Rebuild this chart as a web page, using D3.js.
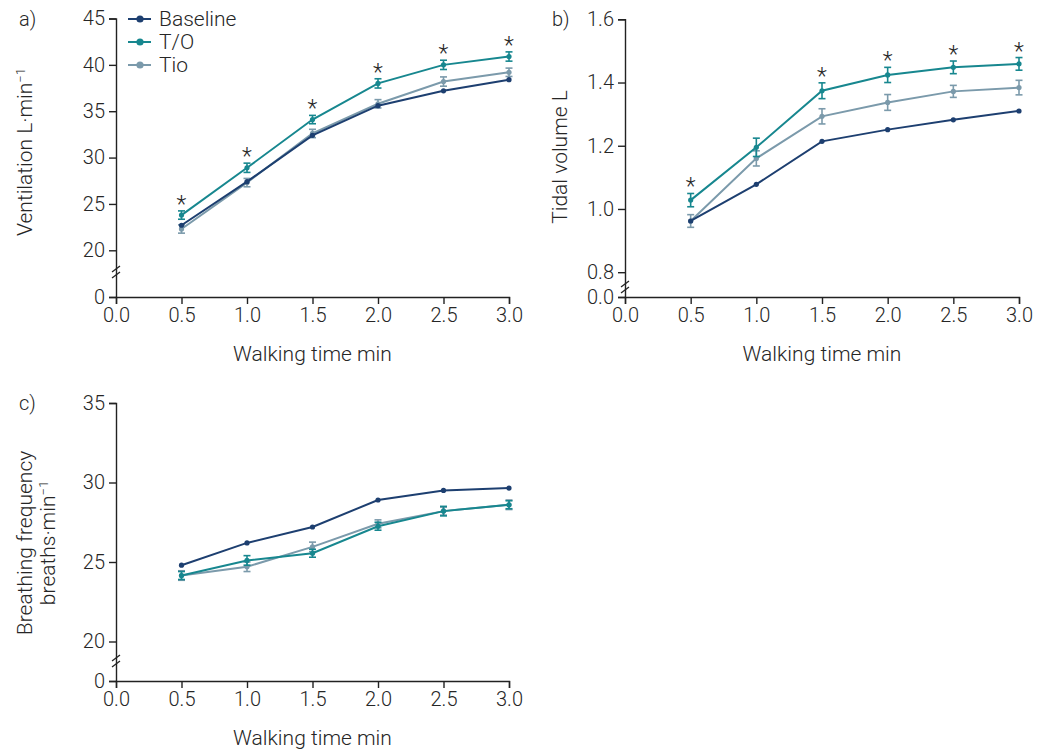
<!DOCTYPE html>
<html>
<head>
<meta charset="utf-8">
<script src="https://cdn.jsdelivr.net/npm/d3@7"></script>
<style>
	body { margin: 0; background: #fff; }
	svg text { font-family: Roboto, "Liberation Sans", sans-serif; font-weight: 300; fill: #262626; }
</style>
</head>
<body>
<svg id="chart" width="1047" height="750"></svg>
<script>
// walking time points (min)
var times = [0.5, 1.0, 1.5, 2.0, 2.5, 3.0];
var seriesNames = ["Baseline", "T/O", "Tio"];
var xTicks = [0, 0.5, 1.0, 1.5, 2.0, 2.5, 3.0];

// a) ventilation L/min
var ventBaseline = [22.7, 27.4, 32.4, 35.6, 37.2, 38.4];
var ventTO = [23.8, 28.9, 34.1, 38.0, 40.0, 40.9];
var ventTio = [22.3, 27.3, 32.6, 35.8, 38.2, 39.2];
var ventTOErr = [0.45, 0.5, 0.45, 0.5, 0.5, 0.5];
var ventTioErr = [0.45, 0.45, 0.45, 0.45, 0.5, 0.45];
var ventStars = [1, 1, 1, 1, 1, 1];
var ventTicks = [0, 20, 25, 30, 35, 40, 45];

// b) tidal volume L
var tidalBaseline = [0.962, 1.078, 1.214, 1.251, 1.282, 1.310];
var tidalTO = [1.028, 1.195, 1.374, 1.424, 1.448, 1.459];
var tidalTio = [0.962, 1.160, 1.293, 1.337, 1.372, 1.384];
var tidalTOErr = [0.021, 0.029, 0.025, 0.024, 0.02, 0.02];
var tidalTioErr = [0.02, 0.024, 0.024, 0.025, 0.019, 0.023];
var tidalStars = [1, 0, 1, 1, 1, 1];
var tidalTicks = [0, 0.8, 1.0, 1.2, 1.4, 1.6];

// c) breathing frequency breaths/min
var freqBaseline = [24.8, 26.2, 27.2, 28.9, 29.5, 29.65];
var freqTO = [24.15, 25.1, 25.55, 27.25, 28.2, 28.6];
var freqTio = [24.15, 24.7, 25.95, 27.4, 28.2, 28.6];
var freqTOErr = [0.25, 0.3, 0.25, 0.25, 0.3, 0.25];
var freqTioErr = [0.3, 0.3, 0.3, 0.25, 0.25, 0.3];
var freqStars = [0, 0, 0, 0, 0, 0];
var freqTicks = [0, 20, 25, 30, 35];

var colors = { "Baseline": "#1d3f70", "T/O": "#17878f", "Tio": "#7b9aab" };
var fontSize = 20;
var titleSize = 21;

var svg = d3.select("#chart");

// draws one panel with a broken y axis (0, then lo..hi)
var drawPanel = function (p) {
	var g = svg.append("g");

	var x = d3.scaleLinear().domain([0, 3]).range([p.x0, p.x1]);
	// piecewise scale: 0 sits on the x axis, the main range sits above the break
	var y = d3.scaleLinear()
		.domain([0, p.lo, p.hi])
		.range([p.base, p.yLo, p.yTop]);

	var yAxis = d3.axisLeft(y)
		.tickValues(p.ticks)
		.tickSize(7)
		.tickPadding(4)
		.tickFormat(p.fmt);
	var gy = g.append("g").attr("transform", "translate(" + p.x0 + ",0)").call(yAxis);

	var xAxis = d3.axisBottom(x)
		.tickValues(xTicks)
		.tickSize(7)
		.tickPadding(4)
		.tickFormat(d3.format(".1f"));
	var gx = g.append("g").attr("transform", "translate(0," + p.base + ")").call(xAxis);

	[gx, gy].forEach(function (ax) {
		ax.select(".domain").attr("stroke", "#222").attr("stroke-width", 1.4);
		ax.selectAll(".tick line").attr("stroke", "#222").attr("stroke-width", 1.4);
		ax.selectAll(".tick text")
			.attr("font-size", fontSize + "px")
			.attr("font-family", null)
			.attr("fill", "#262626");
	});

	// axis break marks
	var yb = p.breakY;
	[-3, 3].forEach(function (dy) {
		g.append("line")
			.attr("x1", p.x0 - 4).attr("y1", yb + dy + 3)
			.attr("x2", p.x0 + 4).attr("y2", yb + dy - 3)
			.attr("stroke", "#222").attr("stroke-width", 1.3);
	});

	// Tio first, T/O last so it sits on top
	var series = [
		{ name: "Tio", values: p.tio, err: p.tioErr },
		{ name: "Baseline", values: p.baseline, err: null },
		{ name: "T/O", values: p.to, err: p.toErr }
	];

	var line = d3.line()
		.x(function (d, i) { return x(times[i]); })
		.y(function (d) { return y(d); });

	series.forEach(function (s) {
		var col = colors[s.name];
		g.append("path")
			.datum(s.values)
			.attr("d", line)
			.attr("fill", "none")
			.attr("stroke", col)
			.attr("stroke-width", 2);

		if (s.err) {
			s.values.forEach(function (v, i) {
				var cx = x(times[i]);
				var t = y(v + s.err[i]), b = y(v - s.err[i]);
				g.append("line").attr("x1", cx).attr("x2", cx).attr("y1", t).attr("y2", b)
					.attr("stroke", col).attr("stroke-width", 1.6);
				[t, b].forEach(function (yy) {
					g.append("line").attr("x1", cx - 3.5).attr("x2", cx + 3.5).attr("y1", yy).attr("y2", yy)
						.attr("stroke", col).attr("stroke-width", 1.6);
				});
			});
		}

		g.selectAll(null)
			.data(s.values)
			.enter().append("circle")
			.attr("cx", function (d, i) { return x(times[i]); })
			.attr("cy", function (d) { return y(d); })
			.attr("r", 2.6)
			.attr("fill", col);
	});

	// significance stars above T/O
	p.stars.forEach(function (st, i) {
		if (!st) return;
		var top = y(p.to[i] + p.toErr[i]);
		g.append("text")
			.attr("x", x(times[i]))
			.attr("y", top + 1)
			.attr("text-anchor", "middle")
			.attr("font-size", "23px")
			.attr("font-weight", 400)
			.text("*");
	});

	// panel letter
	g.append("text")
		.attr("x", p.letterX)
		.attr("y", p.yTop + 7)
		.attr("font-size", fontSize + "px")
		.text(p.letter);

	// x title
	g.append("text")
		.attr("x", (p.x0 + p.x1) / 2)
		.attr("y", p.base + 64)
		.attr("text-anchor", "middle")
		.attr("font-size", titleSize + "px")
		.text("Walking time min");

	// y title lines
	p.yTitle.forEach(function (ln, k) {
		var tx = g.append("text")
			.attr("transform", "translate(" + (p.titleX + k * 23) + "," + p.titleY + ") rotate(-90)")
			.attr("text-anchor", "middle")
			.attr("font-size", titleSize + "px");
		tx.append("tspan").text(ln.text);
		if (ln.sup) {
			tx.append("tspan")
				.attr("dy", -7)
				.attr("font-size", "13px")
				.text(ln.sup);
		}
	});

	return { x: x, y: y };
};

drawPanel({
	letter: "a)", letterX: 19,
	x0: 116, x1: 509, base: 297, lo: 20, hi: 45, yLo: 250.3, yTop: 18.5, breakY: 272,
	ticks: ventTicks, fmt: d3.format("d"),
	baseline: ventBaseline, to: ventTO, tio: ventTio, toErr: ventTOErr, tioErr: ventTioErr,
	stars: ventStars,
	yTitle: [{ text: "Ventilation L·min", sup: "−1" }], titleX: 32, titleY: 152
});

drawPanel({
	letter: "b)", letterX: 552,
	x0: 625, x1: 1019, base: 297, lo: 0.8, hi: 1.6, yLo: 272.2, yTop: 19.3, breakY: 287,
	ticks: tidalTicks, fmt: d3.format(".1f"),
	baseline: tidalBaseline, to: tidalTO, tio: tidalTio, toErr: tidalTOErr, tioErr: tidalTioErr,
	stars: tidalStars,
	yTitle: [{ text: "Tidal volume L" }], titleX: 567, titleY: 157
});

drawPanel({
	letter: "c)", letterX: 19,
	x0: 116, x1: 509, base: 681, lo: 20, hi: 35, yLo: 641.5, yTop: 403, breakY: 661,
	ticks: freqTicks, fmt: d3.format("d"),
	baseline: freqBaseline, to: freqTO, tio: freqTio, toErr: freqTOErr, tioErr: freqTioErr,
	stars: freqStars,
	yTitle: [{ text: "Breathing frequency" }, { text: "breaths·min", sup: "−1" }], titleX: 32, titleY: 543
});

// legend (panel a)
var legend = svg.append("g").attr("class", "legend");
seriesNames.forEach(function (name, i) {
	var ly = 19 + i * 23;
	legend.append("line")
		.attr("x1", 128).attr("x2", 151).attr("y1", ly).attr("y2", ly)
		.attr("stroke", colors[name]).attr("stroke-width", 2);
	legend.append("circle")
		.attr("cx", 140).attr("cy", ly).attr("r", 3.6)
		.attr("fill", colors[name]);
	legend.append("text")
		.attr("x", 159).attr("y", ly + 7)
		.attr("font-size", titleSize + "px")
		.text(name);
});
</script>
</body>
</html>
